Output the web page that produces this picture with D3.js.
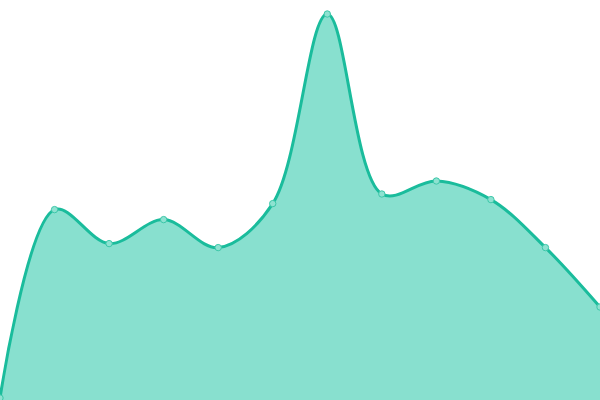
<!DOCTYPE html>
<html>
<head>
<meta charset="utf-8">
<script src="https://cdn.jsdelivr.net/npm/d3@7"></script>
<style>
  body { margin: 0; background: #fff; }
  svg { display: block; }
</style>
</head>
<body>
<div id="chart"></div>
<script>
// data
const categories = ["Jan", "Feb", "Mar", "Apr", "May", "Jun", "Jul", "Aug", "Sep", "Oct", "Nov", "Dec"];
const values = [0.5, 47.6, 39.1, 45.1, 38.1, 49.1, 96.5, 51.5, 54.75, 50.1, 38.1, 23.25];

const WIDTH = 600, HEIGHT = 400;

let svg = d3.select("#chart")
    .append("svg")
    .attr("width", WIDTH)
    .attr("height", HEIGHT);

let x = d3.scalePoint()
    .domain(categories)
    .range([0, WIDTH]);

let y = d3.scaleLinear()
    .domain([0, 100])
    .range([HEIGHT, 0]);

let data = categories.map(function(c, i) { return {cat: c, val: values[i]}; });

let curve = d3.curveCatmullRom.alpha(0.5);

// filled area
svg.append("path")
    .datum(data)
    .attr("fill", "#88e0cf")
    .attr("d", d3.area()
        .x(function(d) { return x(d.cat); })
        .y0(y(0))
        .y1(function(d) { return y(d.val); })
        .curve(curve));

// line on top
svg.append("path")
    .datum(data)
    .attr("fill", "none")
    .attr("stroke", "#1abc9c")
    .attr("stroke-width", 3)
    .attr("d", d3.line()
        .x(function(d) { return x(d.cat); })
        .y(function(d) { return y(d.val); })
        .curve(curve));

// point markers
svg.append("g")
    .selectAll("circle")
    .data(data)
    .enter()
    .append("circle")
    .attr("cx", function(d) { return x(d.cat); })
    .attr("cy", function(d) { return y(d.val); })
    .attr("r", 3.2)
    .attr("fill", "#8ee2d1")
    .attr("stroke", "#3cc7a9")
    .attr("stroke-width", 1);
</script>
</body>
</html>
